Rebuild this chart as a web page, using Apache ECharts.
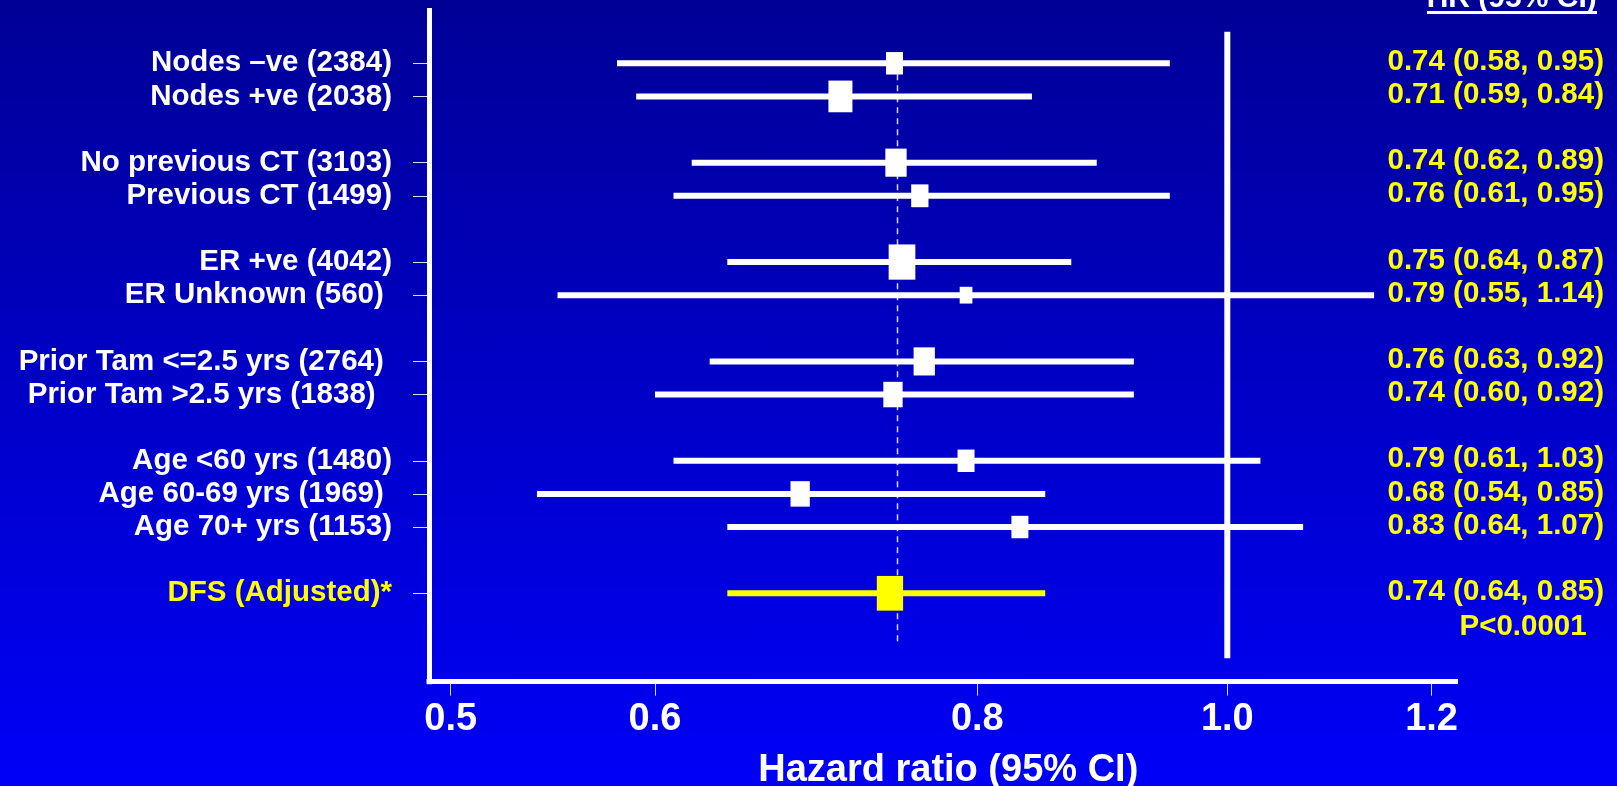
<!DOCTYPE html>
<html><head><meta charset="utf-8">
<script src="https://cdn.jsdelivr.net/npm/echarts@6/dist/echarts.min.js"></script>
<style>
html,body{margin:0;padding:0;width:1617px;height:786px;overflow:hidden;background:linear-gradient(to bottom,#000096,#0000f8);}
#c{width:1617px;height:786px;}
</style>
</head><body><div id="c"></div>
<script>
// ---- data ----
const categories = [
  'Nodes \u2013ve (2384)', 'Nodes +ve (2038)', '',
  'No previous CT (3103)', 'Previous CT (1499)', '',
  'ER +ve (4042)', 'ER Unknown (560) ', '',
  'Prior Tam <=2.5 yrs (2764) ', 'Prior Tam >2.5 yrs (1838)  ', '',
  'Age <60 yrs (1480)', 'Age 60-69 yrs (1969) ', 'Age 70+ yrs (1153)', '',
  'DFS (Adjusted)*'
];
const hr = [0.743, 0.708, 0.744, 0.760, 0.748, 0.792, 0.763, 0.742, 0.792, 0.683, 0.831, 0.740];
const lo = [0.58, 0.59, 0.62, 0.61, 0.64, 0.55, 0.63, 0.60, 0.61, 0.54, 0.64, 0.64];
const hi = [0.95, 0.84, 0.89, 0.95, 0.87, 1.14, 0.92, 0.92, 1.03, 0.85, 1.07, 0.85];
const boxWeight = [17, 24, 21.3, 17.3, 26.7, 12.7, 21.3, 19.3, 17, 19.3, 17, 26.3];
const overallHR = 0.745;
const nullHR = 1.0;
const xTicks = [0.5, 0.6, 0.8, 1.0, 1.2];
const xRange = [0.4904, 1.2259];
const summaryLabel = 'DFS (Adjusted)*';
const pValue = 'P<0.0001';
const xName = 'Hazard ratio (95% CI)';
const headerText = 'HR (95% CI)';

// ---- build ----
const FONT = '"Liberation Sans", Arial, Helvetica, sans-serif';
const YMIN = -1.594, YMAX = 18.669;
const rows = categories.map((c, i) => c ? i : -1).filter(i => i >= 0);
const isSummary = r => categories[r] === summaryLabel;
const fmt = v => v.toFixed(2);
const rightText = rows.map((r, k) => fmt(hr[k]) + ' (' + fmt(lo[k]) + ', ' + fmt(hi[k]) + ')');

const data = rows.map((r, k) => [Math.log(hr[k]), r, Math.log(lo[k]), Math.log(hi[k]), boxWeight[k]]);

const chart = echarts.init(document.getElementById('c'), null, {renderer: 'canvas'});
chart.setOption({
  animation: false,
  backgroundColor: 'transparent',
  grid: {left: 429, right: 161.5, top: 10.5, bottom: 104.3, containLabel: false, outerBoundsMode: 'none'},
  xAxis: {
    type: 'value',
    min: Math.log(xRange[0]), max: Math.log(xRange[1]),
    axisLine: {onZero: false, lineStyle: {color: '#ffffff', width: 5, cap: 'square'}},
    axisTick: {show: true, customValues: xTicks.map(Math.log), length: 14,
      lineStyle: {color: 'rgba(255,255,255,0.85)', width: 1}},
    axisLabel: {customValues: xTicks.map(Math.log), formatter: v => Math.exp(v).toFixed(1),
      margin: 19, fontSize: 38, fontWeight: 'bold', color: '#ffffff', fontFamily: FONT},
    splitLine: {show: false},
    name: xName, nameLocation: 'middle', nameGap: 70,
    nameTextStyle: {fontSize: 38, fontWeight: 'bold', color: '#ffffff', fontFamily: FONT, padding: [0, 0, 0, 12]}
  },
  yAxis: [{
    type: 'value', inverse: true, min: YMIN, max: YMAX,
    axisLine: {show: true, onZero: false, lineStyle: {color: '#ffffff', width: 5, cap: 'square'}},
    axisTick: {show: true, customValues: rows, length: 16,
      lineStyle: {color: 'rgba(255,255,255,0.85)', width: 1}},
    axisLabel: {customValues: rows, formatter: v => categories[Math.round(v)],
      margin: 37, fontSize: 29.5, fontWeight: 'bold', fontFamily: FONT,
      color: v => isSummary(Math.round(Number(v))) ? '#ffff00' : '#ffffff',
      padding: [0, 0, 6, 0]},
    splitLine: {show: false}
  }, {
    type: 'value', inverse: true, min: YMIN, max: YMAX, position: 'right',
    axisLine: {show: false, onZero: false}, axisTick: {show: false}, splitLine: {show: false},
    axisLabel: {customValues: rows,
      formatter: v => {
        const r = Math.round(v); const k = rows.indexOf(r);
        if (isSummary(r)) return '{a| }\n{a|' + rightText[k] + '}\n{p|' + pValue + '}';
        return rightText[k];
      },
      margin: -68, align: 'left', fontSize: 29.5, fontWeight: 'bold', fontFamily: FONT, color: '#ffff00',
      padding: [0, 0, 3, 0],
      rich: {
        a: {fontSize: 29.5, fontWeight: 'bold', fontFamily: FONT, color: '#ffff00', lineHeight: 35},
        p: {fontSize: 29.5, fontWeight: 'bold', fontFamily: FONT, color: '#ffff00', lineHeight: 35, padding: [0, 0, 0, 72]}
      }}
  }],
  graphic: [
    {type: 'text', x: 1511.7, y: -1, z: 10,
      style: {text: headerText, fill: '#ffffff', font: 'bold 30px ' + FONT, align: 'center', verticalAlign: 'middle'}},
    {type: 'rect', z: 10, shape: {x: 1427, y: 11, width: 170, height: 3}, style: {fill: '#ffffff'}}
  ],
  series: [{
    type: 'line', z: 1, symbol: 'none', silent: true,
    data: [[Math.log(overallHR), 0], [Math.log(overallHR), 17.55]],
    lineStyle: {color: 'rgba(255,255,255,0.85)', width: 1.5, type: [6, 5]}
  }, {
    type: 'line', z: 1, symbol: 'none', silent: true,
    data: [[Math.log(nullHR), -0.95], [Math.log(nullHR), 17.96]],
    lineStyle: {color: '#ffffff', width: 6}
  }, {
    type: 'custom', z: 3,
    data: data,
    renderItem: (params, api) => {
      const k = params.dataIndex;
      const y = api.value(1);
      const p0 = api.coord([api.value(2), y]);
      const p1 = api.coord([api.value(3), y]);
      const c = api.coord([api.value(0), y]);
      const w = api.value(4), h = w * 1.32;
      const col = isSummary(rows[k]) ? '#ffff00' : '#ffffff';
      return {type: 'group', children: [
        {type: 'line', shape: {x1: p0[0], y1: p0[1], x2: p1[0], y2: p1[1]}, style: {stroke: col, lineWidth: 6}},
        {type: 'rect', shape: {x: c[0] - w / 2, y: c[1] - h / 2, width: w, height: h}, style: {fill: col}}
      ]};
    }
  }]
});
</script>
</body></html>
